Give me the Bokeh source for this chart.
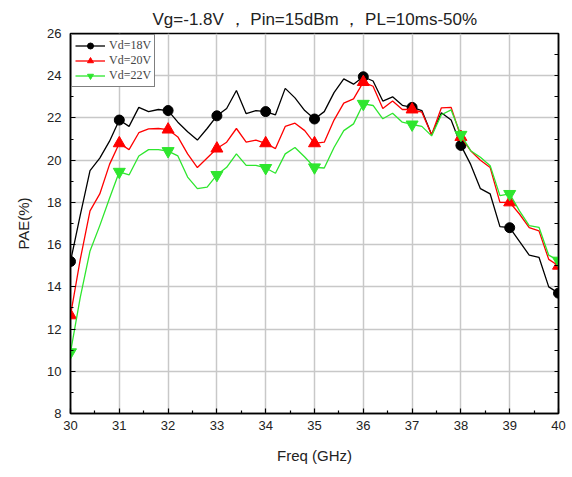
from bokeh.plotting import figure
from bokeh.models import Range1d, LinearAxis, FixedTicker, Legend, LegendItem, ColumnDataSource
from bokeh.embed import file_html
from bokeh.resources import INLINE

freq = [30.0, 30.2, 30.4, 30.6, 30.8, 31.0, 31.2, 31.4, 31.6, 31.8,
        32.0, 32.2, 32.4, 32.6, 32.8, 33.0, 33.2, 33.4, 33.6, 33.8,
        34.0, 34.2, 34.4, 34.6, 34.8, 35.0, 35.2, 35.4, 35.6, 35.8,
        36.0, 36.2, 36.4, 36.6, 36.8, 37.0, 37.2, 37.4, 37.6, 37.8,
        38.0, 38.2, 38.4, 38.6, 38.8, 39.0, 39.2, 39.4, 39.6, 39.8, 40.0]

pae_18v = [15.2, 17.4, 19.5, 20.1, 20.9, 21.9, 21.6, 22.5, 22.3, 22.4,
           22.35, 21.8, 21.35, 20.95, 21.5, 22.1, 22.45, 23.3, 22.2, 22.35,
           22.3, 22.15, 23.4, 22.95, 22.35, 21.95, 22.3, 23.2, 23.85, 23.6,
           23.95, 23.75, 22.8, 23.0, 22.6, 22.5, 22.35, 21.2, 22.25, 21.9,
           20.7, 19.8, 18.65, 18.4, 16.85, 16.8, 16.15, 15.5, 15.4, 14.0, 13.7]

pae_20v = [12.65, 15.3, 17.6, 18.4, 19.8, 20.8, 20.5, 21.3, 21.48, 21.5,
           21.45, 21.1, 20.3, 19.65, 20.1, 20.55, 20.85, 21.5, 20.85, 20.95,
           20.8, 20.55, 21.6, 21.75, 21.4, 20.8, 20.85, 21.9, 22.7, 22.9,
           23.7, 23.5, 22.45, 22.8, 22.4, 22.4, 22.27, 21.2, 22.48, 22.5,
           21.1, 20.45, 20.0, 19.65, 18.0, 18.0, 17.45, 16.8, 16.65, 15.3, 15.0]

pae_22v = [10.9, 13.5, 15.7, 16.9, 18.2, 19.45, 19.3, 20.2, 20.5, 20.5,
           20.43, 20.2, 19.2, 18.65, 18.72, 19.3, 19.66, 20.3, 19.75, 19.75,
           19.63, 19.38, 20.3, 20.6, 20.15, 19.66, 19.63, 20.6, 21.4, 21.72,
           22.67, 22.59, 21.96, 22.22, 21.8, 21.69, 21.6, 21.15, 22.15, 22.38,
           21.2, 20.45, 20.14, 19.74, 18.32, 18.4, 17.6, 16.9, 16.82, 15.5, 15.24]

series_names = ["Vd=18V", "Vd=20V", "Vd=22V"]
x_ticks = [30, 31, 32, 33, 34, 35, 36, 37, 38, 39, 40]
x_minor = [30.5, 31.5, 32.5, 33.5, 34.5, 35.5, 36.5, 37.5, 38.5, 39.5]
y_ticks = [8, 10, 12, 14, 16, 18, 20, 22, 24, 26]
y_minor = [9, 11, 13, 15, 17, 19, 21, 23, 25]

title_text = "Vg=-1.8V ，  Pin=15dBm ，  PL=10ms-50%"

SANS = "Liberation Sans"

p = figure(width=572, height=477, x_range=Range1d(30, 40), y_range=Range1d(8, 26),
           output_backend="svg", toolbar_location=None,
           min_border_left=70, min_border_right=14, min_border_top=33, min_border_bottom=64,
           x_axis_label="Freq (GHz)", y_axis_label="PAE(%)")

p.title.text = title_text
p.title.align = "left"
p.title.offset = 82
p.title.text_font = SANS
p.title.text_font_style = "normal"
p.title.text_font_size = "17px"
p.title.text_color = "#222222"

p.outline_line_color = "black"
p.outline_line_width = 1.5
p.background_fill_color = "white"
p.border_fill_color = "white"

p.xgrid.ticker = FixedTicker(ticks=x_ticks)
p.ygrid.ticker = FixedTicker(ticks=y_ticks)
for g in (p.xgrid, p.ygrid):
    g.grid_line_color = "#c8c8c8"
    g.grid_line_width = 1.5

def style_axis(ax, ticks, minor):
    ax.ticker = FixedTicker(ticks=ticks, minor_ticks=minor)
    ax.axis_line_color = "black"
    ax.axis_line_width = 1.5
    ax.major_tick_in = 5
    ax.major_tick_out = 0
    ax.minor_tick_in = 3
    ax.minor_tick_out = 0
    ax.major_tick_line_color = "black"
    ax.minor_tick_line_color = "black"
    ax.major_tick_line_width = 1.2
    ax.minor_tick_line_width = 1.2
    ax.major_label_text_font = SANS
    ax.major_label_text_font_size = "13px"
    ax.major_label_text_color = "#222222"
    ax.axis_label_text_font = SANS
    ax.axis_label_text_font_size = "15px"
    ax.axis_label_text_font_style = "normal"
    ax.axis_label_text_color = "#222222"

style_axis(p.xaxis[0], x_ticks, x_minor)
style_axis(p.yaxis[0], y_ticks, y_minor)
p.xaxis[0].major_label_standoff = 7
p.xaxis[0].axis_label_standoff = 14
p.yaxis[0].major_label_standoff = 9
p.yaxis[0].axis_label_standoff = 12

# right-hand frame axis: tick marks only (drawn as minor ticks, no labels)
right_ax = LinearAxis(ticker=FixedTicker(ticks=[], minor_ticks=y_ticks + y_minor),
                      axis_line_color="black", axis_line_width=1.5,
                      minor_tick_in=4, minor_tick_out=0,
                      minor_tick_line_color="black", minor_tick_line_width=1.2)
p.add_layout(right_ax, "right")

colors = ["black", "#ff0000", "#2ee62e"]
markers = ["circle", "triangle", "inverted_triangle"]
sizes = [10, 12, 12]
all_series = [pae_18v, pae_20v, pae_22v]

items = []
for name, vals, c, m, s in zip(series_names, all_series, colors, markers, sizes):
    src = ColumnDataSource(dict(x=freq, y=vals))
    ln = p.line("x", "y", source=src, line_color=c, line_width=1.3)
    msrc = ColumnDataSource(dict(x=freq[::5], y=vals[::5]))
    sc = p.scatter("x", "y", source=msrc, marker=m, size=s, fill_color=c, line_color=c)
    items.append(LegendItem(label=name, renderers=[ln, sc]))

legend = Legend(items=items, location="top_left", margin=1, padding=3, spacing=0,
                label_text_font="Liberation Serif", label_text_font_size="12px",
                label_height=15, glyph_height=15, glyph_width=30, label_standoff=4,
                border_line_color="black", border_line_width=1.2,
                background_fill_alpha=1.0)
p.add_layout(legend)

open("out.html", "w").write(file_html(p, INLINE))
